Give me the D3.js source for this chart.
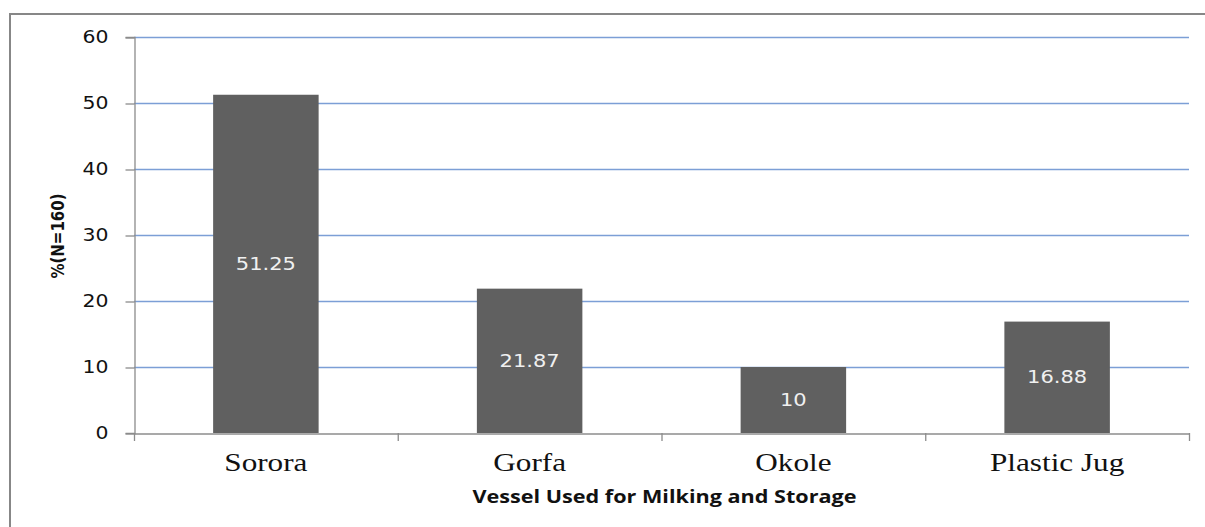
<!DOCTYPE html>
<html>
<head>
<meta charset="utf-8">
<script src="https://cdn.jsdelivr.net/npm/d3@7"></script>
<style>
  html, body { margin: 0; padding: 0; background: #fff; }
  svg { display: block; }
</style>
</head>
<body>
<svg id="chart" width="1205" height="527"></svg>
<script>
// Vessel types and share of respondents (%)
const categories = ["Sorora", "Gorfa", "Okole", "Plastic Jug"];
const values = [51.25, 21.87, 10, 16.88];
const valueLabels = ["51.25", "21.87", "10", "16.88"];
const yTicks = [0, 10, 20, 30, 40, 50, 60];
const xTitle = "Vessel Used for Milking and Storage";
const yTitle = "%(N=160)";

const svg = d3.select("#chart");
const plot = { left: 134, right: 1189, top: 37, bottom: 433 };
const stretch = 1.2; // glyphs are drawn horizontally widened

// widen a text element around its own anchor point
function widen(sel) {
  sel.each(function () {
    const t = d3.select(this);
    const ax = +t.attr("x") || 0, ay = +t.attr("y") || 0;
    const prev = t.attr("transform") || "";
    t.attr("transform", `${prev} translate(${ax},${ay}) scale(${stretch},1) translate(${-ax},${-ay})`);
  });
}

// outer frame (runs past the right and bottom edges)
svg.append("rect")
  .attr("x", 10).attr("y", 14)
  .attr("width", 1300).attr("height", 600)
  .attr("fill", "none")
  .attr("stroke", "#878787")
  .attr("stroke-width", 2);

const x = d3.scaleBand()
  .domain(categories)
  .range([plot.left, plot.right])
  .paddingInner(0.6)
  .paddingOuter(0.3);

const xBand = d3.scaleBand()
  .domain(categories)
  .range([plot.left, plot.right]);

const y = d3.scaleLinear()
  .domain([0, 60])
  .range([plot.bottom, plot.top]);

// horizontal gridlines
svg.append("g")
  .selectAll("line")
  .data(yTicks.filter(d => d > 0))
  .join("line")
  .attr("x1", plot.left).attr("x2", plot.right)
  .attr("y1", d => y(d) + 0.5).attr("y2", d => y(d) + 0.5)
  .attr("stroke", "#7c9fd6")
  .attr("stroke-width", 1.6);

// y axis
const yAxis = svg.append("g")
  .attr("transform", `translate(${plot.left + 0.5},0)`)
  .call(d3.axisLeft(y).tickValues(yTicks).tickSize(9).tickPadding(17));
yAxis.select(".domain").attr("stroke", "#8c8c8c").attr("stroke-width", 1.3);
yAxis.selectAll(".tick line").attr("stroke", "#8c8c8c").attr("stroke-width", 1.3)
  .attr("transform", "translate(0,0.5)");
yAxis.selectAll(".tick text")
  .attr("font-family", "DejaVu Sans, Verdana, sans-serif")
  .attr("font-size", 17)
  .attr("fill", "#111")
  .call(widen);

// bars
svg.append("g")
  .selectAll("rect")
  .data(values)
  .join("rect")
  .attr("x", (d, i) => x(categories[i]))
  .attr("width", x.bandwidth())
  .attr("y", d => y(d))
  .attr("height", d => y(0) - y(d))
  .attr("fill", "#606060");

// x axis
const xAxis = svg.append("g")
  .attr("transform", `translate(0,${plot.bottom + 0.5})`)
  .call(d3.axisBottom(xBand).tickSize(0).tickPadding(19));
xAxis.select(".domain").attr("stroke", "#8c8c8c").attr("stroke-width", 1.3);
xAxis.selectAll(".tick text")
  .attr("font-family", "Liberation Serif, Times New Roman, serif")
  .attr("font-size", 26)
  .attr("fill", "#111")
  .call(widen);

// category boundary ticks
const edges = categories.map(c => xBand(c)).concat([plot.right]);
svg.append("g")
  .selectAll("line")
  .data(edges)
  .join("line")
  .attr("x1", d => d + 0.5).attr("x2", d => d + 0.5)
  .attr("y1", plot.bottom).attr("y2", plot.bottom + 8)
  .attr("stroke", "#8c8c8c")
  .attr("stroke-width", 1.3);

// value labels inside bars
svg.append("g")
  .selectAll("text")
  .data(values)
  .join("text")
  .attr("x", (d, i) => x(categories[i]) + x.bandwidth() / 2)
  .attr("y", d => (y(d) + y(0)) / 2)
  .attr("dy", "0.35em")
  .attr("text-anchor", "middle")
  .attr("font-family", "DejaVu Sans, Verdana, sans-serif")
  .attr("font-size", 17.5)
  .attr("fill", "#f0f0f0")
  .text((d, i) => valueLabels[i])
  .call(widen);

// axis titles
svg.append("text")
  .attr("x", (plot.left + plot.right) / 2 + 3)
  .attr("y", 497)
  .attr("dy", "0.35em")
  .attr("text-anchor", "middle")
  .attr("font-family", "Open Sans, DejaVu Sans, sans-serif")
  .attr("font-weight", "bold")
  .attr("font-size", 18)
  .attr("fill", "#111")
  .text(xTitle)
  .call(widen);

svg.append("text")
  .attr("transform", `translate(58,236) scale(${stretch},1) rotate(-90)`)
  .attr("dy", "0.35em")
  .attr("text-anchor", "middle")
  .attr("font-family", "DejaVu Sans, sans-serif")
  .attr("font-weight", "bold")
  .attr("font-size", 15)
  .attr("fill", "#111")
  .text(yTitle);
</script>
</body>
</html>
